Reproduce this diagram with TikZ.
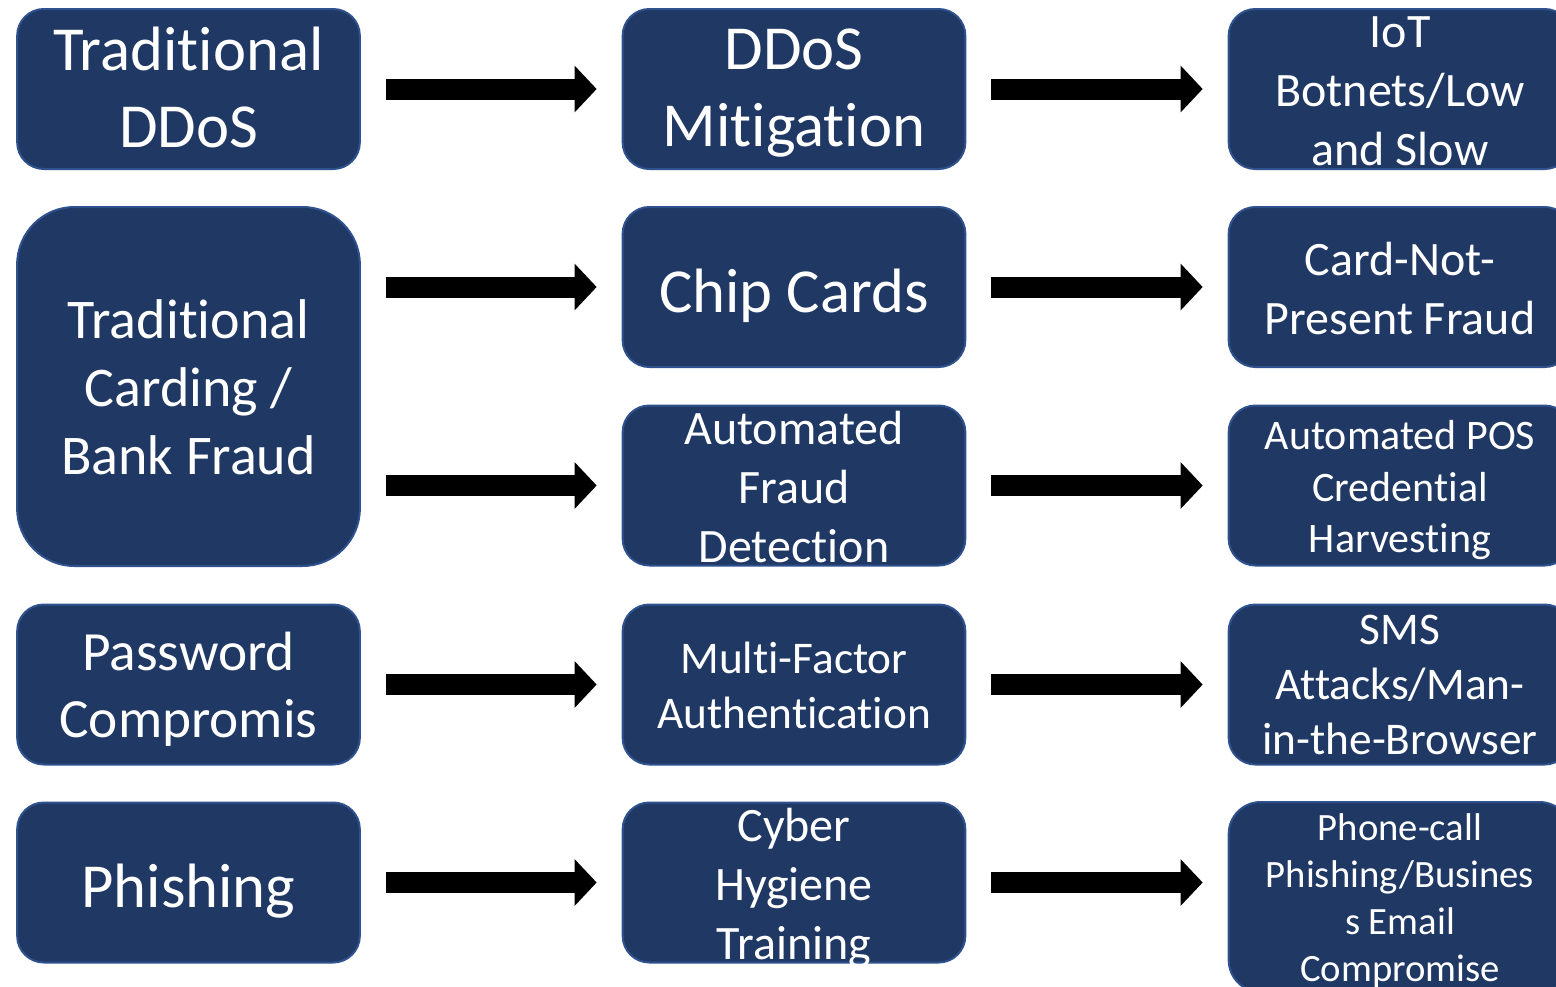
\documentclass[tikz,border=0pt]{standalone}
\usepackage{fontspec}
\setmainfont{Carlito}[Ligatures=CommonOff]
\usetikzlibrary{arrows.meta}
\definecolor{boxfill}{HTML}{203864}
\definecolor{boxline}{HTML}{2F528F}
\begin{document}
\begin{tikzpicture}[x=0.75pt,y=-0.75pt,
  box/.style={draw=boxline, line width=1.5pt, fill=boxfill, rounded corners=20pt,
    minimum width=257pt, minimum height=120pt, inner sep=0pt},
  txt/.style={text=white, align=center, inner sep=0pt,
    execute at begin node=\strut, execute at end node=\strut},
  fA/.style={font=\fontsize{47}{57.75}\selectfont, yshift=-7.5pt},
  fB/.style={font=\fontsize{36}{44.25}\selectfont, yshift=-8pt},
  fC/.style={font=\fontsize{42}{51}\selectfont, yshift=-8pt},
  fD/.style={font=\fontsize{31.5}{38.6}\selectfont, yshift=-6.5pt},
  fE/.style={font=\fontsize{41.5}{50.25}\selectfont, yshift=-8pt},
  fF/.style={font=\fontsize{34}{41.25}\selectfont, yshift=-6.5pt},
  fG/.style={font=\fontsize{29}{35.25}\selectfont, yshift=-6pt},
  flow/.style={line width=15.75pt, -{Triangle[length=16.5pt,width=34pt]},
    shorten <=18.75pt, shorten >=18.75pt}]
\useasboundingbox (0,0) rectangle (1556,986);
\clip (0,0) rectangle (1556,986);
% left column
\node[box] (L1) at (188.5,89) {};
\node[box, minimum height=269.25pt, rounded corners=43pt] (L2) at (188.5,386.5) {};
\node[box] (L4) at (188.5,684.5) {};
\node[box] (L5) at (188.5,882.5) {};
% middle column
\node[box] (M1) at (794,89) {};
\node[box] (M2) at (794,287) {};
\node[box] (M3) at (794,485.5) {};
\node[box] (M4) at (794,684.5) {};
\node[box] (M5) at (794,882.5) {};
% right column
\node[box] (R1) at (1400,89) {};
\node[box] (R2) at (1400,287) {};
\node[box] (R3) at (1400,485.5) {};
\node[box] (R4) at (1400,684.5) {};
\node[box, minimum height=142.5pt, rounded corners=24pt] (R5) at (1400,897) {};
% texts
\node[txt, fA] (tL1) at (L1) {Traditional\\DDoS};
\node[txt, fC] (tL2) at (L2) {Traditional\\Carding /\\Bank Fraud};
\node[txt, fE] (tL4) at (L4) {Password\\Compromis};
\node[txt, fA] (tL5) at (L5) {Phishing};
\node[txt, fA] (tM1) at (M1) {DDoS\\Mitigation};
\node[txt, fA] (tM2) at (M2) {Chip Cards};
\node[txt, fB] (tM3) at (M3) {Automated\\Fraud\\Detection};
\node[txt, fF] (tM4) at (M4) {Multi-Factor\\Authentication};
\node[txt, fB] (tM5) at (M5) {Cyber\\Hygiene\\Training};
\node[txt, fB] (tR1) at (R1) {IoT\\Botnets/Low\\and Slow};
\node[txt, fB] (tR2) at (R2) {Card-Not-\\Present Fraud};
\node[txt, fD] (tR3) at (R3) {Automated POS\\Credential\\Harvesting};
\node[txt, fF] (tR4) at (R4) {SMS\\Attacks/Man-\\in-the-Browser};
\node[txt, fG] (tR5) at (R5) {Phone-call\\Phishing/Busines\\s Email\\Compromise};
% arrows
\draw[flow] (L1.east) -- (M1.west);
\draw[flow] (L2.east |- M2.west) -- (M2.west);
\draw[flow] (L2.east |- M3.west) -- (M3.west);
\draw[flow] (L4.east) -- (M4.west);
\draw[flow] (L5.east) -- (M5.west);
\draw[flow] (M1.east) -- (R1.west);
\draw[flow] (M2.east) -- (R2.west);
\draw[flow] (M3.east) -- (R3.west);
\draw[flow] (M4.east) -- (R4.west);
\draw[flow] (M5.east |- L5.east) -- (M5.east -| R5.west);
\end{tikzpicture}
\end{document}
